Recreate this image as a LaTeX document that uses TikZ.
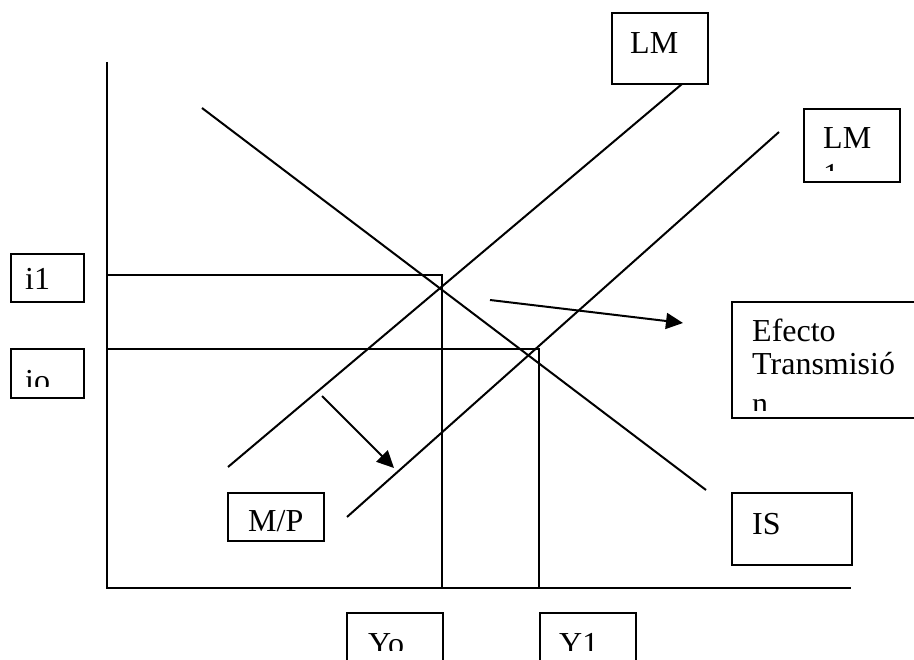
\documentclass[tikz,border=0pt]{standalone}
\usepackage{fontspec}
\setmainfont{Liberation Serif}
\usetikzlibrary{arrows.meta}
\begin{document}
\begin{tikzpicture}[x=1pt,y=-1pt,
  curve/.style={line width=2pt},
  box/.style={draw,line width=2pt,inner sep=0pt,anchor=north west},
  lbl/.style={anchor=base west,inner sep=0pt,font=\fontsize{32}{37}\selectfont},
  shiftarrow/.style={line width=2pt,-{Triangle[length=17pt,width=16pt]}}]
\clip (0,0) rectangle (914,660);

% axes
\coordinate (ytop) at (107,62);
\coordinate (origin) at (107,588);
\coordinate (xend) at (851,588);
\draw[curve] (ytop) -- (origin) -- (xend);

% equilibrium guides
\coordinate (i1a) at (107,275);
\coordinate (e0) at (442,275);
\coordinate (y0foot) at (442,588);
\coordinate (ioa) at (107,349);
\coordinate (e1) at (539,349);
\coordinate (y1foot) at (539,588);
\draw[curve] (i1a) -- (e0) -- (y0foot);
\draw[curve] (ioa) -- (e1) -- (y1foot);

% curves
\coordinate (lm-lo) at (228,467);
\coordinate (lm-hi) at (682,84);
\coordinate (lm1-lo) at (347,517);
\coordinate (lm1-hi) at (779,132);
\coordinate (is-hi) at (202,108);
\coordinate (is-lo) at (706,490);
\draw[curve] (lm-lo) -- (lm-hi);
\draw[curve] (lm1-lo) -- (lm1-hi);
\draw[curve] (is-hi) -- (is-lo);

% shift arrows
\coordinate (a1s) at (490,300);
\coordinate (a1e) at (683,323);
\coordinate (a2s) at (322,396);
\coordinate (a2e) at (394,468);
\draw[shiftarrow] (a1s) -- (a1e);
\draw[shiftarrow] (a2s) -- (a2e);

% label boxes
\node[box,minimum width=96pt,minimum height=71pt] (lmbox) at (611,12) {};
\node[box,minimum width=96pt,minimum height=73pt] (lm1box) at (803,108) {};
\node[box,minimum width=73pt,minimum height=48pt] (i1box) at (10,253) {};
\node[box,minimum width=73pt,minimum height=49pt] (iobox) at (10,348) {};
\node[box,minimum width=200pt,minimum height=116pt] (efbox) at (731,301) {};
\node[box,minimum width=96pt,minimum height=48pt] (mpbox) at (227,492) {};
\node[box,minimum width=120pt,minimum height=72pt] (isbox) at (731,492) {};
\node[box,minimum width=96pt,minimum height=70pt] (y0box) at (346,612) {};
\node[box,minimum width=96pt,minimum height=70pt] (y1box) at (539,612) {};

% box texts, cut at the inner margin of each box
\begin{scope}\clip (611,12) rectangle (707,73);
\node[lbl] (lmtxt) at (630,54) {LM};\end{scope}
\begin{scope}\clip (803,108) rectangle (899,171);
\node[lbl] (lm1txt) at (823,149) {LM};
\node[lbl] (lm1sub) at (823,186) {1};\end{scope}
\begin{scope}\clip (10,253) rectangle (83,293);
\node[lbl] (i1txt) at (25,290) {i1};\end{scope}
\begin{scope}\clip (10,348) rectangle (83,387);
\node[lbl] (iotxt) at (25,392) {io};\end{scope}
\begin{scope}\clip (731,301) rectangle (914,411);
\node[lbl] (eftxt1) at (752,342) {Efecto};
\node[lbl] (eftxt2) at (752,375) {Transmisió};
\node[lbl] (eftxt3) at (752,415) {n};\end{scope}
\begin{scope}\clip (227,492) rectangle (323,532);
\node[lbl] (mptxt) at (248,531) {M/P};\end{scope}
\begin{scope}\clip (731,492) rectangle (851,556);
\node[lbl] (istxt) at (752,534) {IS};\end{scope}
\begin{scope}\clip (346,612) rectangle (442,650);
\node[lbl] (y0txt) at (368,654) {Yo};\end{scope}
\begin{scope}\clip (539,612) rectangle (635,650);
\node[lbl] (y1txt) at (559,654) {Y1};\end{scope}
\end{tikzpicture}
\end{document}
